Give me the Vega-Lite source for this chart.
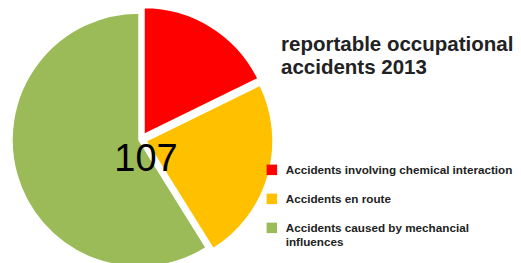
{
  "$schema": "https://vega.github.io/schema/vega-lite/v6.json",
  "width": 278,
  "height": 280,
  "autosize": "none",
  "padding": {"left": 0, "top": 0, "right": 243, "bottom": 0},
  "background": "white",
  "title": {
    "text": ["reportable occupational", "accidents 2013"],
    "anchor": "start",
    "frame": "group",
    "orient": "top",
    "baseline": "top",
    "dx": 281,
    "dy": 78,
    "offset": 0,
    "font": "Liberation Sans",
    "fontSize": 20.5,
    "fontWeight": "bold",
    "color": "#222222",
    "lineHeight": 22.5
  },
  "data": {
    "values": [
      {"category": "Accidents involving chemical interaction", "value": 19, "order": 1},
      {"category": "Accidents en route", "value": 25, "order": 2},
      {"category": "Accidents caused by mechancial influences", "value": 63, "order": 3}
    ]
  },
  "transform": [
    {"stack": "value", "groupby": [], "sort": [{"field": "order", "order": "ascending"}], "as": ["start", "end"]}
  ],
  "encoding": {
    "theta": {"field": "start", "type": "quantitative", "scale": {"domain": [0, 107]}},
    "theta2": {"field": "end"},
    "color": {
      "field": "category",
      "type": "nominal",
      "scale": {
        "domain": ["Accidents involving chemical interaction", "Accidents en route", "Accidents caused by mechancial influences"],
        "range": ["#FF0000", "#FFC000", "#9BBB59"]
      },
      "legend": {
        "title": null,
        "orient": "none",
        "legendX": 266,
        "legendY": 164,
        "symbolType": "square",
        "symbolSize": 110,
        "symbolStrokeWidth": 0,
        "symbolOpacity": 1,
        "labelFont": "Liberation Sans",
        "labelFontSize": 11.7,
        "labelFontWeight": "bold",
        "labelColor": "#222222",
        "labelOffset": 8,
        "labelLimit": 260,
        "labelLineHeight": 13.5,
        "rowPadding": 16,
        "labelExpr": "datum.label == 'Accidents caused by mechancial influences' ? ['Accidents caused by mechancial', 'influences'] : datum.label"
      }
    }
  },
  "layer": [
    {
      "transform": [{"filter": "datum.order == 3"}],
      "mark": {"type": "arc", "outerRadius": 127, "stroke": "white", "strokeWidth": 1.5}
    },
    {
      "transform": [{"filter": "datum.order == 2"}],
      "mark": {"type": "arc", "outerRadius": 127, "xOffset": 7, "yOffset": 1, "stroke": "white", "strokeWidth": 1.5}
    },
    {
      "transform": [{"filter": "datum.order == 1"}],
      "mark": {"type": "arc", "outerRadius": 127, "xOffset": 5, "yOffset": -5.5, "stroke": "white", "strokeWidth": 1.5}
    },
    {
      "transform": [{"aggregate": [{"op": "sum", "field": "value", "as": "total"}]}],
      "mark": {"type": "text", "font": "Liberation Sans", "fontSize": 38, "color": "black", "dx": 7, "dy": 20, "baseline": "middle", "align": "center"},
      "encoding": {
        "theta": null,
        "theta2": null,
        "color": null,
        "text": {"field": "total", "type": "quantitative"}
      }
    }
  ]
}
